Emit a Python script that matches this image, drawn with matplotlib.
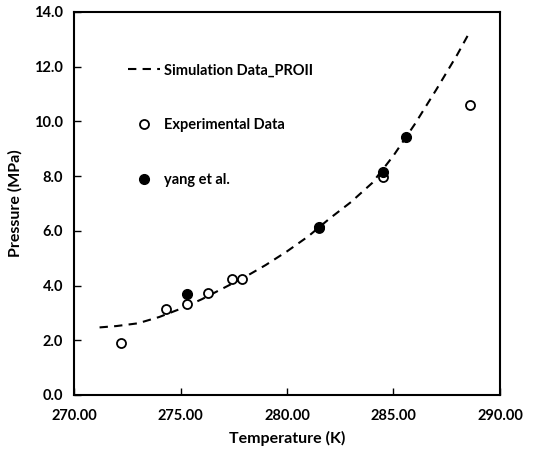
import matplotlib.pyplot as plt

plt.rcParams['font.family'] = ['Lato', 'DejaVu Sans']
plt.rcParams['font.weight'] = 'bold'

# simulation curve (PROII)
sim_T = [271.2, 272.0, 273.0, 274.0, 275.0, 276.0, 277.0, 278.0, 279.0, 280.0,
         281.0, 282.0, 283.0, 284.0, 285.0, 286.0, 287.0, 288.0, 288.6]
sim_P = [2.47, 2.52, 2.62, 2.85, 3.15, 3.50, 3.90, 4.30, 4.75, 5.25,
         5.80, 6.45, 7.05, 7.75, 8.75, 9.90, 11.15, 12.45, 13.30]

# experimental data (open circles)
exp_T = [272.2, 274.3, 275.3, 276.3, 277.4, 277.9, 281.5, 284.5, 288.6]
exp_P = [1.90, 3.14, 3.31, 3.74, 4.23, 4.25, 6.10, 7.98, 10.60]

# yang et al. (filled circles)
yang_T = [275.3, 281.5, 284.5, 285.6]
yang_P = [3.69, 6.15, 8.16, 9.44]

fig = plt.figure(figsize=(5.34, 4.58), dpi=100)
ax = fig.add_axes([0.1386, 0.1376, 0.7977, 0.8362])

ax.plot(sim_T, sim_P, color='black', lw=1.5, ls=(0, (4, 3)),
        label='Simulation Data_PROII')
ax.plot(exp_T, exp_P, 'o', mfc='white', mec='black', mew=1.3, ms=6.5,
        ls='none', label='Experimental Data')
ax.plot(yang_T, yang_P, 'o', mfc='black', mec='black', ms=7,
        ls='none', label='yang et al.')

ax.set_xlim(270, 290)
ax.set_ylim(0, 14)
ax.set_xticks([270, 275, 280, 285, 290])
ax.set_yticks([0, 2, 4, 6, 8, 10, 12, 14])
ax.set_xticklabels(['270.00', '275.00', '280.00', '285.00', '290.00'])
ax.set_yticklabels(['0.0', '2.0', '4.0', '6.0', '8.0', '10.0', '12.0', '14.0'])
ax.tick_params(direction='in', length=5, width=1, labelsize=10.5, pad=8)
ax.tick_params(axis='x', pad=10)
for s in ax.spines.values():
    s.set_linewidth(1.5)

ax.set_xlabel('Temperature (K)', fontsize=11.5, fontweight='bold', labelpad=6)
ax.set_ylabel('Pressure (MPa)', fontsize=11.5, fontweight='bold', labelpad=8)

ax.legend(loc='upper left', bbox_to_anchor=(0.095, 0.9), frameon=False,
          fontsize=10.5, labelspacing=2.8, handlelength=2.2, handletextpad=0.3)

fig.savefig('out.png', dpi=100)
